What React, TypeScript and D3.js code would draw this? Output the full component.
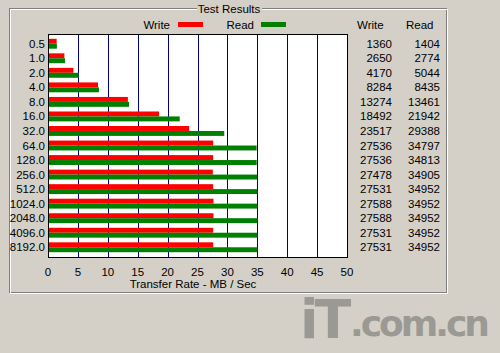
import React from "react";
import * as d3 from "d3";

const categories = ["0.5", "1.0", "2.0", "4.0", "8.0", "16.0", "32.0", "64.0", "128.0", "256.0", "512.0", "1024.0", "2048.0", "4096.0", "8192.0"];
const writeValues = [1360, 2650, 4170, 8284, 13274, 18492, 23517, 27536, 27536, 27478, 27531, 27588, 27588, 27531, 27531];
const readValues = [1404, 2774, 5044, 8435, 13461, 21942, 29388, 34797, 34813, 34905, 34952, 34952, 34952, 34952, 34952];
const xTicks = [0, 5, 10, 15, 20, 25, 30, 35, 40, 45, 50];

const W = 500;
const H = 353;
const BG = "#d4d0c8";
const FONT = "'Liberation Sans', Arial, sans-serif";

export default function App() {
  const left = 48, right = 347, top = 34, bottom = 257;
  const x = d3.scaleLinear().domain([0, 50]).range([left, right]);
  const y = d3.scaleBand<string>().domain(categories).range([top, bottom]).paddingInner(0.32).paddingOuter(0.33);
  const bh = y.bandwidth() / 2;
  const fs = 11.5;

  return (
    <svg width={W} height={H} style={{ position: "absolute", left: 0, top: 0, display: "block" }} fontFamily={FONT}>
      <rect x={0} y={0} width={W} height={H} fill={BG} />
      {/* group box (etched) */}
      <rect x={9.5} y={8.5} width={437} height={284} fill="none" stroke="#808080" />
      <rect x={10.5} y={9.5} width={437} height={284} fill="none" stroke="#ffffff" />
      <rect x={197} y={2} width={65} height={14} fill={BG} />
      <text x={229} y={13} fontSize={fs} textAnchor="middle" fill="#000">Test Results</text>

      {/* legend */}
      <text x={170} y={29} fontSize={fs} textAnchor="end" fill="#000">Write</text>
      <rect x={178} y={22} width={25} height={5} fill="#ff0000" />
      <text x={254} y={29} fontSize={fs} textAnchor="end" fill="#000">Read</text>
      <rect x={261} y={22} width={25} height={5} fill="#008000" />

      {/* plot area */}
      <rect x={left} y={top} width={right - left} height={bottom - top} fill="#ffffff" />
      {xTicks.slice(1, -1).map((t) => (
        <line key={t} x1={Math.round(x(t)) + 0.5} x2={Math.round(x(t)) + 0.5} y1={top} y2={bottom} stroke="#000080" />
      ))}
      {categories.map((c, i) => (
        <g key={c}>
          <rect x={x(0) + 0.5} y={y(c)!} width={x(writeValues[i] / 1000) - x(0)} height={bh} fill="#ff0000" />
          <rect x={x(0) + 0.5} y={y(c)! + bh} width={x(readValues[i] / 1000) - x(0)} height={bh} fill="#008000" />
          <text x={45} y={y(c)! + bh + 4} fontSize={fs} textAnchor="end" fill="#000">{c}</text>
          <text x={392} y={y(c)! + bh + 4} fontSize={fs} textAnchor="end" fill="#000">{writeValues[i]}</text>
          <text x={440} y={y(c)! + bh + 4} fontSize={fs} textAnchor="end" fill="#000">{readValues[i]}</text>
        </g>
      ))}
      <rect x={left + 0.5} y={top + 0.5} width={right - left} height={bottom - top} fill="none" stroke="#000" />

      {/* right table headers */}
      <text x={357} y={29} fontSize={fs} fill="#000">Write</text>
      <text x={406} y={29} fontSize={fs} fill="#000">Read</text>

      {/* x axis labels */}
      {xTicks.map((t) => (
        <text key={t} x={x(t)} y={276} fontSize={fs} textAnchor="middle" fill="#000">{t}</text>
      ))}
      <text x={193} y={288} fontSize={fs} textAnchor="middle" fill="#000">Transfer Rate - MB / Sec</text>

      {/* watermark */}
      <g fill="#9a9994" fontFamily="'DejaVu Sans', sans-serif" fontWeight="bold">
        <text x={300} y={338} fontSize={54} letterSpacing={-4}>iT</text>
        <text x={350} y={336} fontSize={36} letterSpacing={-3}>.com.cn</text>
      </g>
    </svg>
  );
}
